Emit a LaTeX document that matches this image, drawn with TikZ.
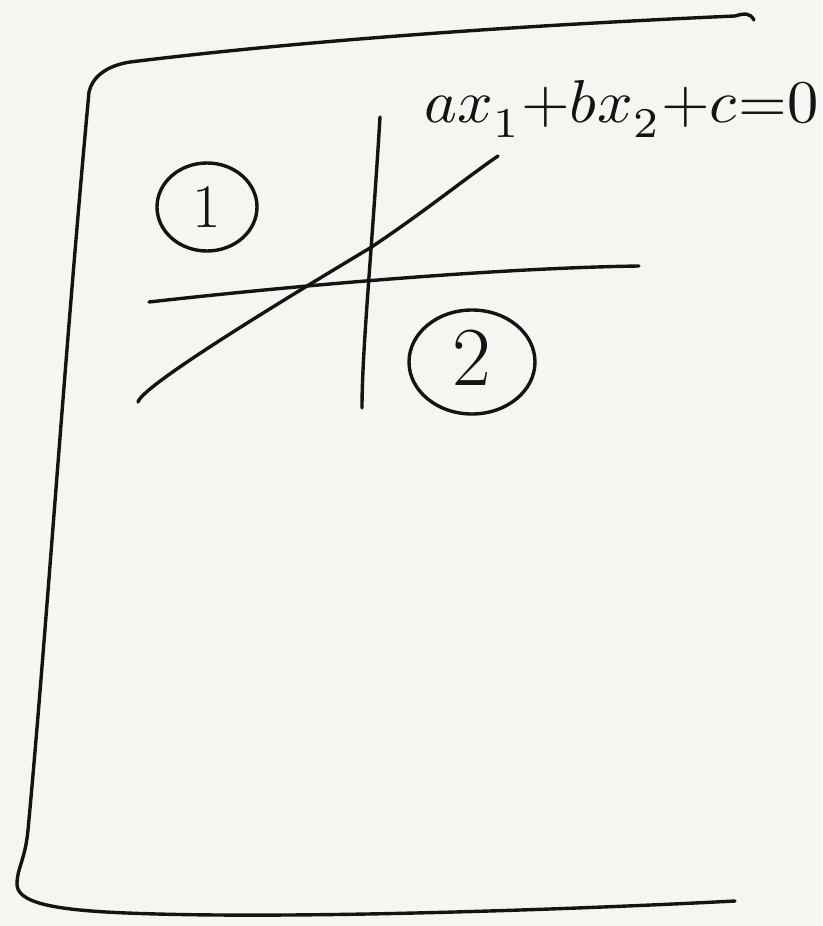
\documentclass[tikz,border=0pt]{standalone}
\usepackage{fontspec}
\usepackage{unicode-math}
\setmathfont{Latin Modern Math}
\usetikzlibrary{calc}
\definecolor{paper}{HTML}{F5F6F1}
\definecolor{ink}{HTML}{141414}
\begin{document}
\begin{tikzpicture}[x=1pt,y=-1pt,
  pen/.style={draw=ink,line width=3.4pt,line cap=round,line join=round}]
\fill[paper] (0,0) rectangle (822,926);
\useasboundingbox (0,0) rectangle (822,926);
% frame
\draw[pen] (754,20) .. controls (750,13) and (745,13) .. (735,16)
  .. controls (600,22) and (350,35) .. (130,62)
  .. controls (105,66) and (92,78) .. (89,92)
  .. controls (65,350) and (45,650) .. (28,830)
  .. controls (25.2,860) and (17,868) .. (17,884)
  .. controls (17,902) and (50,910) .. (127,913)
  .. controls (300,920) and (600,908) .. (735,901);
% axes
\draw[pen] (380,117) .. controls (372,250) and (362,350) .. (362,408);
\draw[pen] (149,302) .. controls (300,285) and (500,268) .. (639,266);
\draw[pen] (138,402) .. controls (142,385) and (300,290) .. (370,248)
  .. controls (420,215) and (470,175) .. (498,156);
% circles
\draw[pen] (207,207) ellipse [x radius=50,y radius=44];
\node[text=ink,font=\fontsize{62}{66}\selectfont] (one) at (207,207) {1};
\draw[pen] (472,362) ellipse [x radius=63,y radius=52];
\node[text=ink,font=\fontsize{84}{90}\selectfont] (two) at (472,358) {2};
% equation
\node[anchor=north west,inner sep=0pt,text=ink] (eq) at (424,80)
  {\resizebox*{394pt}{57pt}{$ax_1{+}bx_2{+}c{=}0$}};
\end{tikzpicture}
\end{document}
